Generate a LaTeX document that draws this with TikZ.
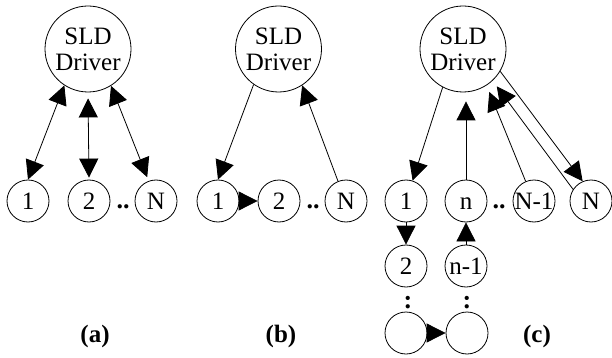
\documentclass[tikz,border=0pt]{standalone}
\usepackage{fontspec}
\setmainfont{Liberation Serif}
\usetikzlibrary{arrows.meta}
\newcommand{\ctx}[1]{\makebox[0pt]{#1\vphantom{N}}}
\begin{document}
\begin{tikzpicture}[x=1pt,y=-1pt,
  every node/.style={font=\fontsize{25}{26}\selectfont},
  drv/.style={draw,circle,line width=0.8pt,minimum size=86pt,inner sep=0pt,align=center},
  sc/.style={draw,circle,line width=0.8pt,minimum size=42pt,inner sep=0pt},
  lbl/.style={font=\fontsize{25}{26}\selectfont\bfseries,anchor=base},
  dts/.style={font=\fontsize{26}{26}\selectfont\bfseries,anchor=base,inner sep=0pt},
  ar/.style={line width=0.8pt,-{Triangle[length=19pt,width=19pt]}},
  bar/.style={line width=0.8pt,{Triangle[length=19pt,width=19pt]}-{Triangle[length=19pt,width=19pt]}}]
\useasboundingbox (0,0) rectangle (612,358);
% ---------- (a)
\node[drv] (Da) at (88,49) {SLD\\Driver};
\node[sc] (a1) at (28,201) {\ctx{1}};
\node[sc] (a2) at (89,201) {\ctx{2}};
\node[sc] (aN) at (156,201) {\ctx{N}};
\node[dts] (adots) at (123,208) {..};
\draw[bar] (Da.237) -- (a1.north);
\draw[bar,shorten <=6pt,shorten >=2pt] (Da.south) -- (a2.north);
\draw[bar,shorten >=4pt] (Da.302) -- (aN.110);
\node[lbl] (la) at (95,342) {(a)};
% ---------- (b)
\node[drv] (Db) at (278.5,49) {SLD\\Driver};
\node[sc] (b1) at (218,201) {\ctx{1}};
\node[sc] (b2) at (279,201) {\ctx{2}};
\node[sc] (bN) at (346,201) {\ctx{N}};
\node[dts] (bdots) at (313,208) {..};
\draw[ar] (Db.235) -- (b1.north);
\draw[ar] (bN.112) -- (Db.303);
\draw[ar] (b1.east) -- (b2.west);
\node[lbl] (lb) at (281,342) {(b)};
% ---------- (c)
\node[drv] (Dc) at (463,49) {SLD\\Driver};
\node[sc] (c1) at (406,201) {\ctx{1}};
\node[sc] (cn) at (466,201) {\ctx{n}};
\node[sc] (cN1) at (534,201) {\ctx{N-1}};
\node[sc] (cN) at (591,201) {\ctx{N}};
\node[dts] (cdots) at (499,208) {..};
\node[sc] (c2) at (406,266) {\ctx{2}};
\node[sc] (cn1) at (466,266) {\ctx{n-1}};
\node[dts] (ccol1) at (408,308) {:};
\node[dts] (ccol2) at (467,308) {:};
\node[sc] (c3) at (406,333) {};
\node[sc] (c4) at (467,333) {};
\draw[ar] (Dc.242) -- (c1.72);
\draw[ar,shorten >=9pt] (cn.north) -- (cn.north |- Dc.south);
\draw[ar,shorten >=7pt] (cN1.113) -- (Dc.303);
\draw[ar,shorten >=7pt] (cN.147) -- (Dc.313);
\draw[ar] (Dc.329) -- (cN.113);
\draw[ar] (c1.south) -- (c2.north);
\draw[ar] (cn1.north) -- (cn.south);
\draw[ar] (c3.east) -- (c4.west);
\node[lbl] (lc) at (537,342) {(c)};
\end{tikzpicture}
\end{document}
